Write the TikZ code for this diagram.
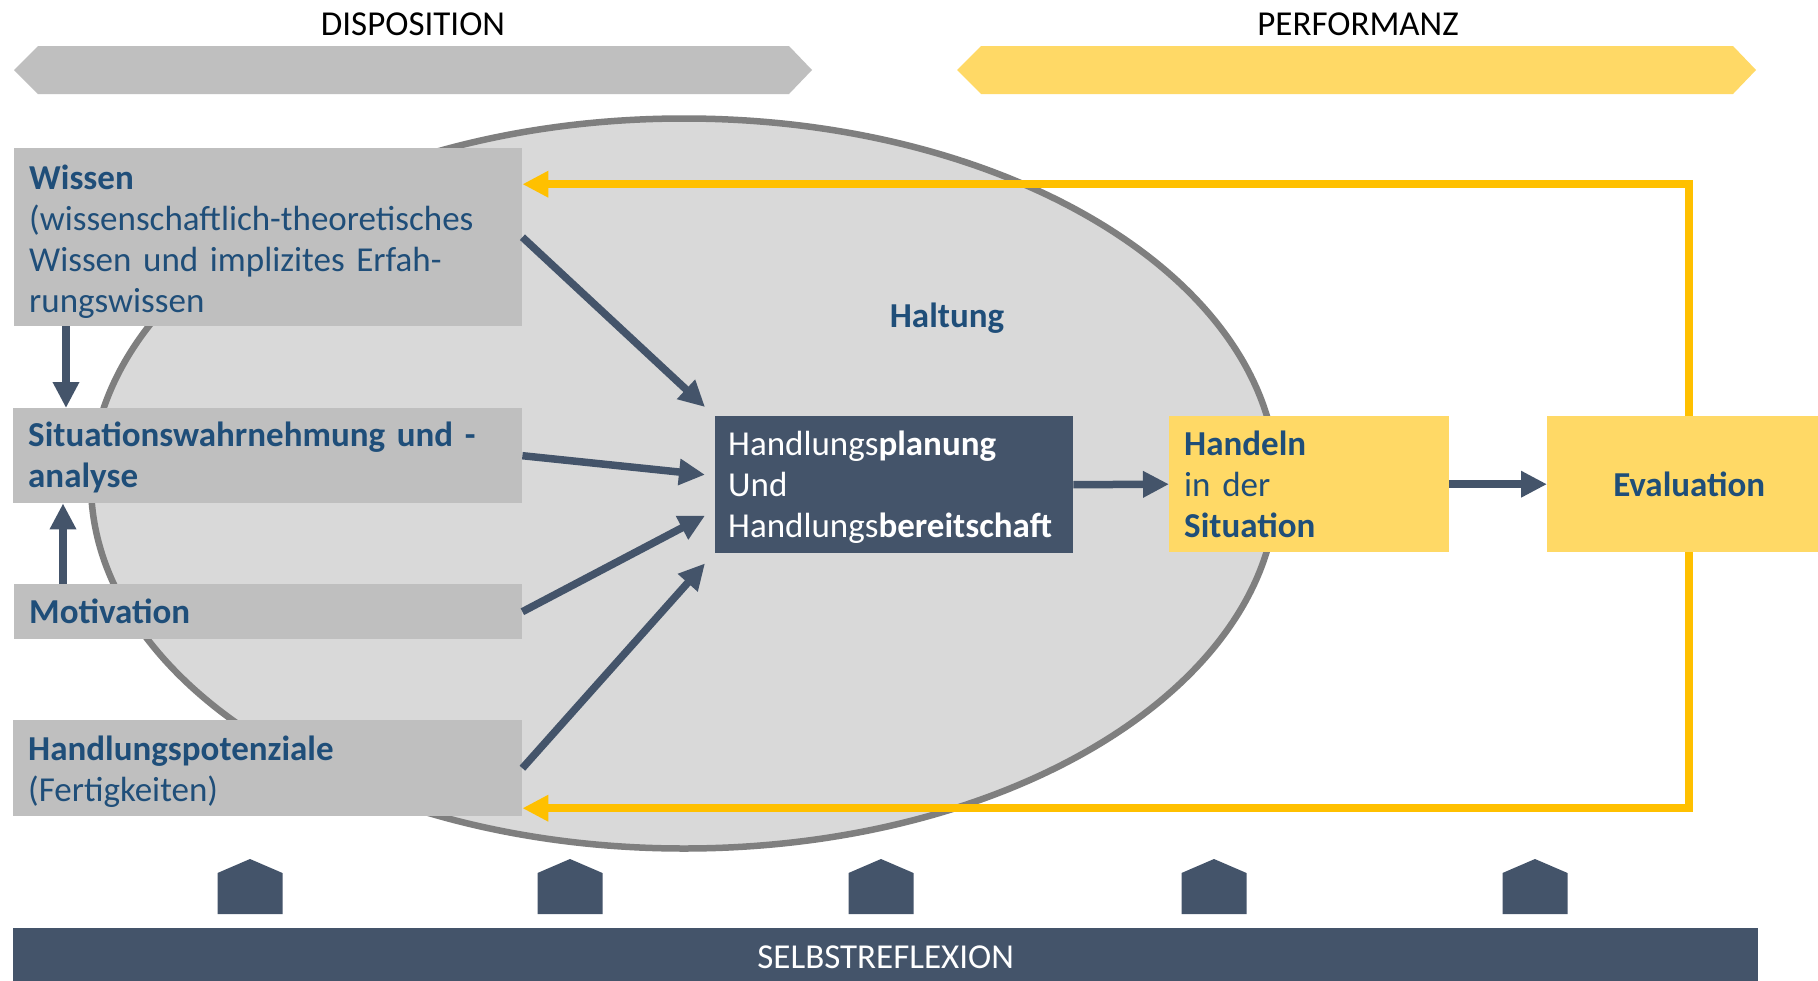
\documentclass[tikz,border=0pt]{standalone}
\usepackage{fontspec}
\setmainfont{Carlito}
\usetikzlibrary{arrows.meta}

\definecolor{slate}{HTML}{44546A}
\definecolor{boxgray}{HTML}{BFBFBF}
\definecolor{ovalgray}{HTML}{D9D9D9}
\definecolor{rimgray}{HTML}{7F7F7F}
\definecolor{gold}{HTML}{FFC000}
\definecolor{paleyellow}{HTML}{FFD966}
\definecolor{inkblue}{HTML}{1F4E79}

% invisible strut that raises the first line of a box
\newcommand{\toppad}[1]{\rule{0pt}{#1}}

\begin{document}
\begin{tikzpicture}[x=1pt, y=-1pt,
  every node/.style={font=\fontsize{35}{41}\selectfont},
  graybox/.style={fill=boxgray, text=inkblue, anchor=north west, align=left,
    inner xsep=15pt, inner ysep=0pt},
  planbox/.style={fill=slate, text=white, anchor=north west, align=left,
    inner xsep=13pt, inner ysep=0pt},
  yellowbox/.style={fill=paleyellow, text=inkblue, anchor=north west,
    inner xsep=15pt, inner ysep=0pt},
  arr/.style={slate, line width=7.5pt, -{Triangle[length=26pt, width=25pt]}},
  yarr/.style={gold, line width=8pt, miter limit=10, -{Triangle[length=26pt, width=25pt]}}
]
\clip (0,0) rectangle (1818,980);
\fill[white] (0,0) rectangle (1818,980);

% header bands
\fill[boxgray] (14,70) -- (38,46) -- (789,46) -- (812,70) -- (789,94) -- (38,94) -- cycle;
\fill[paleyellow] (957,70) -- (981,46) -- (1733,46) -- (1756,70) -- (1733,94) -- (981,94) -- cycle;
\node (disp) at (413,24) {DISPOSITION};
\node (perf) at (1358,24) {PERFORMANZ};

% attitude oval
\draw[rimgray, line width=6.5pt, fill=ovalgray] (684,483.5) ellipse [x radius=593, y radius=365];
\node[text=inkblue, font=\fontsize{35}{41}\selectfont\bfseries] (haltung) at (947,318) {Haltung};

% disposition boxes
\node[graybox, text width=478pt, minimum height=178pt] (wissen) at (14,148)
  {\toppad{34pt}\textbf{Wissen}\\(wissenschaftlich-theoretisches\\Wissen und implizites Erfah-\\rungswissen};
\node[graybox, text width=479pt, minimum height=95pt] (sit) at (13,408)
  {\toppad{28.5pt}\textbf{Situationswahrnehmung und -}\\\textbf{analyse}};
\node[graybox, text width=478pt, minimum height=55pt] (mot) at (14,584)
  {\textbf{Motivation}};
\node[graybox, text width=479pt, minimum height=96pt] (pot) at (13,720)
  {\toppad{32pt}\textbf{Handlungspotenziale}\\(Fertigkeiten)};

% planning and performance boxes
\node[planbox, text width=332pt, minimum height=137pt] (plan) at (715,416)
  {\toppad{30pt}Handlungs\textbf{planung}\\Und\\Handlungs\textbf{bereitschaft}};
\node[yellowbox, align=left, text width=250pt, minimum height=136pt] (hand) at (1169,416)
  {\textbf{Handeln}\\in der\\\textbf{Situation}};
\node[yellowbox, align=center, text width=254pt, minimum height=136pt] (eval) at (1547,416)
  {\textbf{Evaluation}};

% feedback loop
\draw[yarr] (eval.north) |- ([shift={(0,-53)}]wissen.east);
\draw[yarr] (eval.south) |- ([shift={(0,40)}]pot.east);

% influences on planning
\draw[arr] (wissen.east) -- ([shift={(-10,-9)}]plan.north west);
\draw[arr] (sit.east) -- ([shift={(-10,-10)}]plan.west);
\draw[arr] (mot.east) -- ([shift={(-10,31)}]plan.west);
\draw[arr] (pot.east) -- ([shift={(-10,10)}]plan.south west);
\draw[arr] ([xshift=52pt]wissen.south west) -- ([xshift=53pt]sit.north west);
\draw[arr] ([xshift=49pt]mot.north west) -- ([xshift=50pt]sit.south west);
\draw[arr] (plan.east) -- (hand.west);
\draw[arr] (hand.east) -- (eval.west);

% self-reflection base
\foreach \cx in {250,570,881,1214,1535}
  \fill[slate] (\cx-32.5,914) -- (\cx-32.5,873) -- (\cx,859) -- (\cx+32.5,873) -- (\cx+32.5,914) -- cycle;
\node[fill=slate, text=white, anchor=north west, inner sep=0pt,
  minimum width=1745pt, minimum height=58pt] (selbst) at (13,928) {SELBSTREFLEXION};
\end{tikzpicture}
\end{document}
